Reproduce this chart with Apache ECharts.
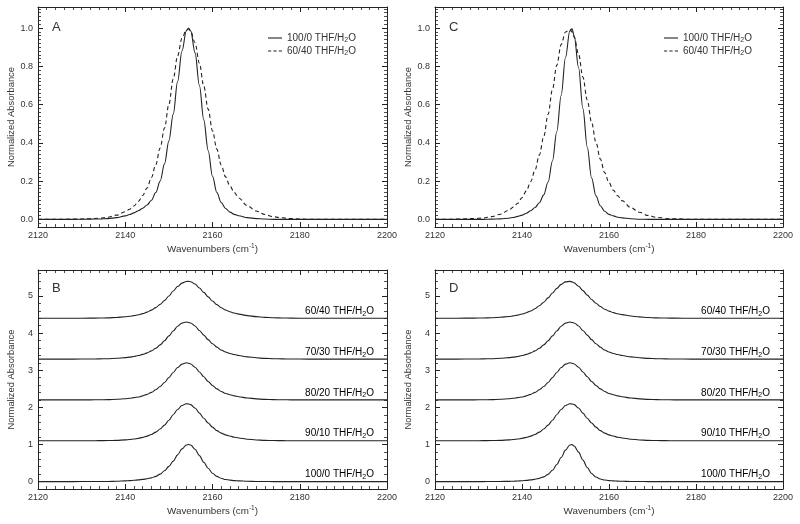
<!DOCTYPE html>
<html><head><meta charset="utf-8">
<script src="https://cdn.jsdelivr.net/npm/echarts@6/dist/echarts.min.js"></script>
<style>html,body{margin:0;padding:0;background:#fff}#c{width:800px;height:524px}</style>
</head><body><div id="c"></div>
<script>
// ---------- data ----------
const wnAB = [2120, 2124, 2128, 2132, 2134, 2136, 2138, 2140, 2141, 2142, 2143, 2144, 2145, 2146, 2147, 2148, 2149, 2150, 2151, 2152, 2153, 2154, 2154.5, 2155, 2156, 2157, 2158, 2159, 2160, 2161, 2162, 2163, 2164, 2165, 2166, 2168, 2170, 2172, 2174, 2176, 2178, 2182, 2186, 2190, 2200];
const wnCD = [2120, 2122, 2125, 2129, 2131, 2133, 2135, 2137, 2138, 2139, 2140, 2141, 2142, 2143, 2144, 2145, 2146, 2147, 2148, 2149, 2150, 2151, 2151.5, 2152, 2153, 2154, 2155, 2156, 2157, 2158, 2159, 2160, 2161, 2162, 2163, 2165, 2167, 2169, 2171, 2173, 2175, 2179, 2183, 2187, 2200];

// Panel A / B
const a100 = [0, 0, 0, 0.001, 0.002, 0.004, 0.009, 0.018, 0.025, 0.034, 0.045, 0.058, 0.075, 0.1, 0.14, 0.2, 0.29, 0.41, 0.55, 0.72, 0.88, 0.985, 1.0, 0.985, 0.87, 0.7, 0.52, 0.36, 0.225, 0.14, 0.088, 0.057, 0.038, 0.026, 0.019, 0.009, 0.004, 0.0015, 0, 0, 0, 0, 0, 0, 0];
const a60 = [0, 0, 0.001, 0.003, 0.006, 0.011, 0.022, 0.04, 0.053, 0.07, 0.093, 0.125, 0.164, 0.218, 0.287, 0.373, 0.477, 0.601, 0.734, 0.854, 0.946, 0.991, 0.995, 0.983, 0.923, 0.816, 0.696, 0.576, 0.463, 0.367, 0.284, 0.222, 0.174, 0.14, 0.112, 0.071, 0.044, 0.025, 0.013, 0.008, 0.004, 0, 0, 0, 0];
const b90 = [0, 0, 0, 0.001, 0.002, 0.005, 0.011, 0.024, 0.033, 0.047, 0.065, 0.09, 0.125, 0.17, 0.231, 0.316, 0.422, 0.554, 0.702, 0.843, 0.95, 0.997, 0.989, 0.974, 0.881, 0.744, 0.608, 0.477, 0.367, 0.273, 0.206, 0.157, 0.126, 0.096, 0.075, 0.042, 0.022, 0.01, 0.006, 0.0025, 0.0005, 0, 0, 0, 0];
const b80 = [0, 0, 0, 0.001, 0.004, 0.008, 0.017, 0.033, 0.043, 0.061, 0.08, 0.11, 0.149, 0.202, 0.273, 0.36, 0.468, 0.601, 0.74, 0.872, 0.964, 1.0, 0.987, 0.969, 0.882, 0.752, 0.624, 0.498, 0.39, 0.298, 0.227, 0.174, 0.139, 0.109, 0.086, 0.052, 0.029, 0.015, 0.008, 0.004, 0.0015, 0, 0, 0, 0];
const b70 = [0, 0, 0, 0.0025, 0.005, 0.01, 0.021, 0.039, 0.052, 0.069, 0.095, 0.126, 0.167, 0.221, 0.293, 0.383, 0.493, 0.624, 0.758, 0.883, 0.968, 1.0, 0.987, 0.973, 0.893, 0.769, 0.646, 0.523, 0.413, 0.322, 0.246, 0.192, 0.152, 0.123, 0.097, 0.06, 0.035, 0.019, 0.01, 0.006, 0.0025, 0, 0, 0, 0];

// Panel C / D
const c100 = [0, 0, 0, 0, 0, 0.001, 0.0025, 0.006, 0.0099, 0.0153, 0.022, 0.032, 0.045, 0.062, 0.087, 0.128, 0.195, 0.305, 0.459, 0.647, 0.846, 0.985, 0.996, 0.959, 0.794, 0.579, 0.378, 0.216, 0.123, 0.071, 0.042, 0.026, 0.018, 0.011, 0.0077, 0.003, 0.0005, 0, 0, 0, 0, 0, 0, 0, 0];
const c60 = [0, 0, 0.001, 0.004, 0.007, 0.014, 0.027, 0.048, 0.064, 0.084, 0.113, 0.149, 0.197, 0.258, 0.337, 0.433, 0.549, 0.679, 0.806, 0.914, 0.979, 0.993, 0.98, 0.952, 0.864, 0.744, 0.624, 0.507, 0.403, 0.316, 0.244, 0.192, 0.152, 0.123, 0.098, 0.061, 0.037, 0.02, 0.01, 0.006, 0.003, 0, 0, 0, 0];
const d90 = [0, 0, 0, 0.001, 0.002, 0.005, 0.011, 0.024, 0.033, 0.047, 0.065, 0.09, 0.125, 0.17, 0.231, 0.316, 0.422, 0.554, 0.702, 0.843, 0.95, 0.997, 0.989, 0.974, 0.881, 0.744, 0.608, 0.477, 0.367, 0.273, 0.206, 0.157, 0.126, 0.096, 0.075, 0.042, 0.022, 0.01, 0.006, 0.0025, 0.0005, 0, 0, 0, 0];
const d80 = [0, 0, 0, 0.001, 0.004, 0.008, 0.017, 0.033, 0.043, 0.061, 0.08, 0.11, 0.149, 0.202, 0.273, 0.36, 0.468, 0.601, 0.74, 0.872, 0.964, 1.0, 0.987, 0.969, 0.882, 0.752, 0.624, 0.498, 0.39, 0.298, 0.227, 0.174, 0.139, 0.109, 0.086, 0.052, 0.029, 0.015, 0.008, 0.004, 0.0015, 0, 0, 0, 0];
const d70 = [0, 0, 0, 0.0025, 0.005, 0.01, 0.021, 0.039, 0.052, 0.069, 0.095, 0.126, 0.167, 0.221, 0.293, 0.383, 0.493, 0.624, 0.758, 0.883, 0.968, 1.0, 0.987, 0.973, 0.893, 0.769, 0.646, 0.523, 0.413, 0.322, 0.246, 0.192, 0.152, 0.123, 0.097, 0.06, 0.035, 0.019, 0.01, 0.006, 0.0025, 0, 0, 0, 0];

const stackComps = ['100/0', '90/10', '80/20', '70/30', '60/40'];
const stackOffsets = [0, 1.1, 2.2, 3.3, 4.4];
const legendComps = ['100/0', '60/40'];
const panelLetters = ['A', 'B', 'C', 'D'];
const xRange = [2120, 2200];
const xMajor = 20;
const yRangeTop = [-0.04, 1.11];
const yRangeBottom = [-0.2, 5.7];

// ---------- chart ----------
const FONT = '"Liberation Sans", Arial, Helvetica, sans-serif';
const INK = '#222';
const TXT = '#333';
const chemRich = {
  t: { fontSize: 10, fontFamily: FONT, color: TXT, lineHeight: 13 },
  s: { fontSize: 7, fontFamily: FONT, color: TXT, lineHeight: 13, padding: [5, 0, 0, 0] }
};
const chemText = comp => '{t|' + comp + ' THF/H}{s|2}{t|O}';
const compName = comp => comp + ' THF/H2O';

const grids = [
  { left: 38, top: 7, width: 349, height: 220 },
  { left: 38, top: 270, width: 349, height: 219 },
  { left: 435, top: 7, width: 348, height: 220 },
  { left: 435, top: 270, width: 348, height: 219 }
];

function mkX(gi, pos) {
  const bottom = pos === 'bottom';
  return {
    type: 'value', gridIndex: gi, position: pos, min: xRange[0], max: xRange[1], interval: xMajor,
    axisLine: { show: true, onZero: false, lineStyle: { color: INK, width: 1 } },
    axisTick: { show: true, inside: true, length: 5, lineStyle: { color: INK, width: 1 } },
    minorTick: { show: true, splitNumber: 10, length: 3, lineStyle: { color: INK, width: 0.8 } },
    splitLine: { show: false }, minorSplitLine: { show: false },
    axisLabel: { show: bottom, color: TXT, fontSize: 9, fontFamily: FONT, margin: 4, formatter: v => String(v) },
    name: bottom ? '{n|Wavenumbers (cm}{p|-1}{n|)}' : '',
    nameLocation: 'middle', nameGap: 16,
    nameTextStyle: { rich: {
      n: { fontSize: 9.8, fontFamily: FONT, color: TXT },
      p: { fontSize: 6.5, fontFamily: FONT, color: TXT, padding: [0, 0, 5, 0] }
    } }
  };
}
function mkY(gi, pos, isTop) {
  const left = pos === 'left';
  const r = isTop ? yRangeTop : yRangeBottom;
  return {
    type: 'value', gridIndex: gi, position: pos, min: r[0], max: r[1], splitNumber: 5,
    axisLine: { show: true, onZero: false, lineStyle: { color: INK, width: 1 } },
    axisTick: { show: true, inside: true, length: 5, lineStyle: { color: INK, width: 1 } },
    minorTick: { show: true, splitNumber: isTop ? 10 : 5, length: 3, lineStyle: { color: INK, width: 0.8 } },
    splitLine: { show: false }, minorSplitLine: { show: false },
    axisLabel: { show: left, color: TXT, fontSize: 9, fontFamily: FONT, margin: 5,
      showMinLabel: false, showMaxLabel: false,
      formatter: v => isTop ? v.toFixed(1) : String(Math.round(v)) },
    name: left ? 'Normalized Absorbance' : '',
    nameLocation: 'middle', nameGap: 22, nameRotate: 90,
    nameTextStyle: { fontSize: 9.4, fontFamily: FONT, color: TXT }
  };
}

function line(name, gi, wn, vals, off, dashed) {
  return {
    type: 'line', name: name, xAxisIndex: gi, yAxisIndex: gi,
    data: wn.map((x, i) => [x, vals[i] + off]),
    symbol: 'none', showSymbol: false, smooth: 0.35, smoothMonotone: 'x',
    lineStyle: { color: INK, width: 1.1, type: dashed ? [4, 3] : 'solid' },
    itemStyle: { color: INK }, silent: true, z: 3, animation: false
  };
}

const xAxes = [], yAxes = [];
for (let g = 0; g < 4; g++) { xAxes.push(mkX(g, 'bottom')); yAxes.push(mkY(g, 'left', g % 2 === 0)); }
for (let g = 0; g < 4; g++) { xAxes.push(mkX(g, 'top')); yAxes.push(mkY(g, 'right', g % 2 === 0)); }

const series = [];
series.push(line(compName(legendComps[0]), 0, wnAB, a100, 0, false));
series.push(line(compName(legendComps[1]), 0, wnAB, a60, 0, true));
series.push(line(compName(legendComps[0]), 2, wnCD, c100, 0, false));
series.push(line(compName(legendComps[1]), 2, wnCD, c60, 0, true));
const bSets = [a100, b90, b80, b70, a60];
const dSets = [c100, d90, d80, d70, c60];
for (let k = 0; k < 5; k++) {
  series.push(line('B ' + stackComps[k], 1, wnAB, bSets[k], stackOffsets[k], false));
  series.push(line('D ' + stackComps[k], 3, wnCD, dSets[k], stackOffsets[k], false));
}

const ICON_SOLID = 'path://M0,0H140V11H0Z';
const ICON_DASH = 'path://M0,0H32V11H0Z M54,0H86V11H54Z M108,0H140V11H108Z';
function mkLegend(left) {
  return {
    orient: 'vertical', left: left, top: 32, padding: 0, itemGap: 1,
    itemWidth: 14, itemHeight: 1.1, selectedMode: false,
    data: [
      { name: compName(legendComps[0]), icon: ICON_SOLID },
      { name: compName(legendComps[1]), icon: ICON_DASH }
    ],
    formatter: name => chemText(name.split(' ')[0]),
    textStyle: { rich: chemRich }
  };
}

const chart = echarts.init(document.getElementById('c'), null, { renderer: 'canvas' });
chart.setOption({
  animation: false,
  backgroundColor: '#fff',
  grid: grids,
  xAxis: xAxes,
  yAxis: yAxes,
  legend: [mkLegend(268), mkLegend(664)],
  series: series
});

const graphics = [];
[0, 1, 2, 3].forEach(g => {
  const p = chart.convertToPixel({ xAxisIndex: g, yAxisIndex: g }, [xRange[0], g % 2 === 0 ? yRangeTop[1] : yRangeBottom[1]]);
  graphics.push({ type: 'text', x: p[0] + 14, y: p[1] + (g % 2 === 0 ? 14 : 12), silent: true,
    style: { text: panelLetters[g], font: '13px ' + FONT, fill: TXT } });
});
[1, 3].forEach(g => {
  for (let k = 0; k < 5; k++) {
    const p = chart.convertToPixel({ xAxisIndex: g, yAxisIndex: g }, [xRange[1], stackOffsets[k]]);
    graphics.push({ type: 'text', x: p[0] - 13, y: p[1] - 7, silent: true,
      style: { text: chemText(stackComps[k]), rich: chemRich, align: 'right', verticalAlign: 'middle' } });
  }
});
chart.setOption({ graphic: graphics });
</script>
</body></html>
